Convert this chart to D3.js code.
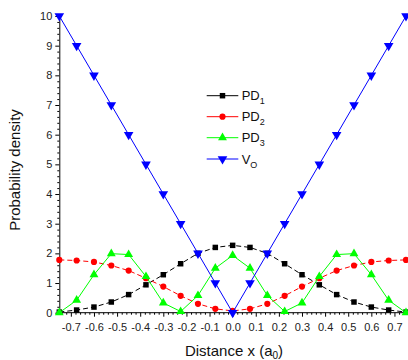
<!DOCTYPE html>
<html>
<head>
<meta charset="utf-8">
<script src="https://cdn.jsdelivr.net/npm/d3@7"></script>
<style>
  html, body { margin: 0; padding: 0; background: #fff; }
  svg { display: block; }
  .narrow { font-family: "Liberation Sans Narrow", "Arial Narrow", "Liberation Sans", Arial, sans-serif; }
</style>
</head>
<body>
<svg id="chart" width="408" height="360"></svg>
<script>
// Positions along the well (units of a0)
const xs = [-0.75, -0.675, -0.6, -0.525, -0.45, -0.375, -0.3, -0.225, -0.15, -0.075, 0,
            0.075, 0.15, 0.225, 0.3, 0.375, 0.45, 0.525, 0.6, 0.675, 0.75];

// Probability densities of the first three states and the potential V0
const pd1 = [0.02, 0.09, 0.19, 0.36, 0.61, 0.94, 1.28, 1.65, 2.0, 2.2, 2.27,
             2.2, 2.0, 1.65, 1.28, 0.94, 0.61, 0.36, 0.19, 0.09, 0.02];
const pd2 = [1.78, 1.76, 1.71, 1.59, 1.42, 1.16, 0.88, 0.57, 0.3, 0.13, 0.06,
             0.13, 0.3, 0.57, 0.88, 1.16, 1.42, 1.59, 1.71, 1.76, 1.78];
const pd3 = [0.0, 0.42, 1.28, 1.99, 1.96, 1.22, 0.33, 0.04, 0.58, 1.5, 1.93,
             1.5, 0.58, 0.04, 0.33, 1.22, 1.96, 1.99, 1.28, 0.42, 0.0];
const v0  = [10, 9, 8, 7, 6, 5, 4, 3, 2, 1, 0, 1, 2, 3, 4, 5, 6, 7, 8, 9, 10];

// Axis ticks
const xTicks = [-0.7, -0.6, -0.5, -0.4, -0.3, -0.2, -0.1, 0, 0.1, 0.2, 0.3, 0.4, 0.5, 0.6, 0.7];
const yTicks = [0, 1, 2, 3, 4, 5, 6, 7, 8, 9, 10];

const series = [
  { name: "PD", sub: "1", values: pd1, color: "#000000", dash: "5,3", symbol: d3.symbolSquare, size: 30, rot: 0 },
  { name: "PD", sub: "2", values: pd2, color: "#ff0000", dash: "5,3", symbol: d3.symbolCircle, size: 30, rot: 0 },
  { name: "PD", sub: "3", values: pd3, color: "#00ff00", dash: null, symbol: d3.symbolTriangle, size: 34, rot: 0 },
  { name: "V", sub: "O", values: v0, color: "#0000ff", dash: null, symbol: d3.symbolTriangle, size: 40, rot: 180 }
];

const svg = d3.select("#chart");
const x = d3.scaleLinear().domain([-0.75, 0.75]).range([59.3, 406]);
const y = d3.scaleLinear().domain([0, 10]).range([312.7, 16]);

const fmt = v => (Math.abs(v) < 1e-9 ? 0 : v).toFixed(1);

// Minor ticks
const yMinor = d3.range(0, 10.001, 0.2).filter(v => Math.abs(v - Math.round(v)) > 1e-6);
const xMinor = d3.range(-0.74, 0.7401, 0.02).filter(v => Math.abs(v * 10 - Math.round(v * 10)) > 1e-6);

svg.append("g").attr("transform", `translate(${x.range()[0]},0)`)
  .call(d3.axisLeft(y).tickValues(yMinor).tickSize(2).tickFormat(""))
  .call(g => g.select(".domain").remove())
  .selectAll("line").attr("stroke", "#000");

svg.append("g").attr("transform", `translate(0,${y(0)})`)
  .call(d3.axisBottom(x).tickValues(xMinor).tickSize(2).tickFormat(""))
  .call(g => g.select(".domain").remove())
  .selectAll("line").attr("stroke", "#000");

// Major axes
const yAxis = svg.append("g").attr("class", "narrow")
  .attr("transform", `translate(${x.range()[0]},0)`)
  .call(d3.axisLeft(y).tickValues(yTicks).tickSize(4).tickPadding(3).tickSizeOuter(0).tickFormat(d3.format("d")));
const xAxis = svg.append("g").attr("class", "narrow")
  .attr("transform", `translate(0,${y(0)})`)
  .call(d3.axisBottom(x).tickValues(xTicks).tickSize(4).tickPadding(7).tickSizeOuter(0).tickFormat(fmt));

[yAxis, xAxis].forEach(a => {
  a.attr("font-family", null).attr("font-size", 11);
  a.selectAll("text").attr("fill", "#222");
  a.selectAll("line, path").attr("stroke", "#000");
});
xAxis.select(".domain").attr("d", `M${x.range()[0]},0H408`);

// Series lines and markers
const line = d3.line().x((d, i) => x(xs[i])).y(d => y(d));
series.forEach(s => {
  svg.append("path")
    .attr("d", line(s.values))
    .attr("fill", "none")
    .attr("stroke", s.color)
    .attr("stroke-width", 1)
    .attr("stroke-dasharray", s.dash);
  const sym = d3.symbol().type(s.symbol).size(s.size);
  svg.append("g").selectAll("path").data(s.values).join("path")
    .attr("d", sym)
    .attr("fill", s.color)
    .attr("transform", (d, i) => `translate(${x(xs[i])},${y(d)}) rotate(${s.rot})`);
});

// Legend
const legend = svg.append("g").attr("class", "narrow");
const rowY = [95.7, 116.7, 137.7, 159];
series.forEach((s, i) => {
  const g = legend.append("g").attr("transform", `translate(0,${rowY[i]})`);
  g.append("line").attr("x1", 206.7).attr("x2", 238.3).attr("y1", 0).attr("y2", 0)
    .attr("stroke", s.color).attr("stroke-width", 1);
  g.append("path").attr("d", d3.symbol().type(s.symbol).size(s.size)())
    .attr("fill", s.color)
    .attr("transform", `translate(222.5,0) rotate(${s.rot})`);
  const t = g.append("text").attr("x", 241.7).attr("y", 4.6)
    .attr("font-size", 13).attr("fill", "#111");
  t.append("tspan").text(s.name);
  t.append("tspan").attr("font-size", 9).attr("dy", 4).text(s.sub);
});

// Axis titles
const xt = svg.append("text").attr("class", "narrow")
  .attr("x", 234).attr("y", 356).attr("text-anchor", "middle")
  .attr("font-size", 15).attr("fill", "#111");
xt.append("tspan").text("Distance x (a");
xt.append("tspan").attr("font-size", 10).attr("dy", 3).text("0");
xt.append("tspan").attr("dy", -3).text(")");

svg.append("text")
  .attr("transform", "translate(20,170) rotate(-90)")
  .attr("text-anchor", "middle")
  .attr("font-family", "'Liberation Sans', Arial, sans-serif")
  .attr("font-size", 15).attr("fill", "#111")
  .text("Probability density");
</script>
</body>
</html>
